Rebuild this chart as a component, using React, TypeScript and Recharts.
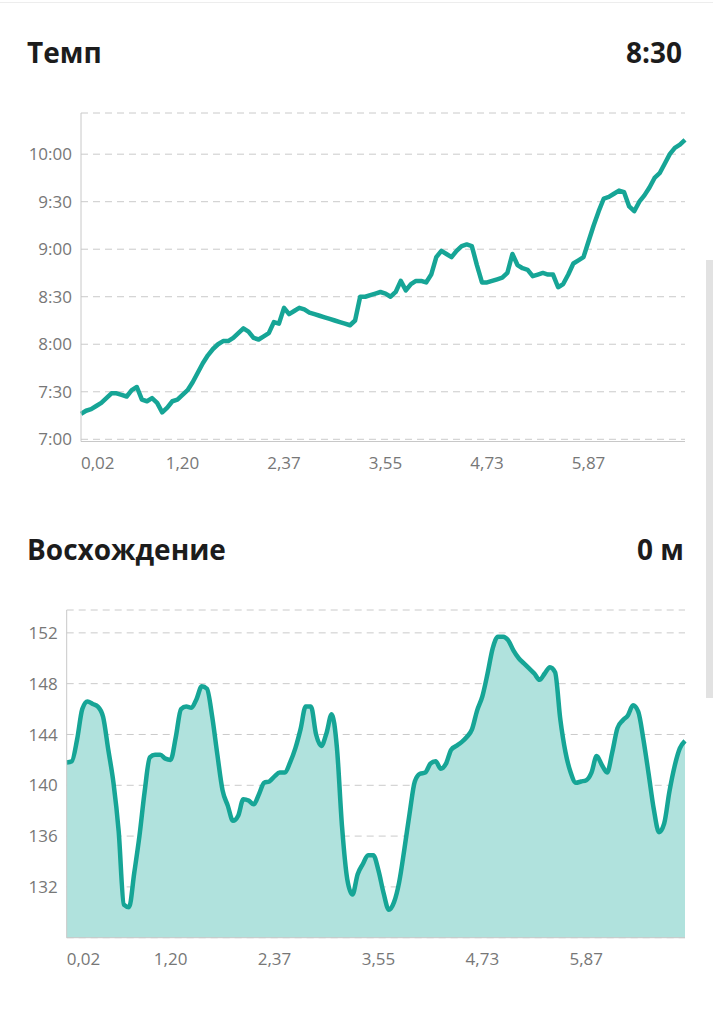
import React from "react";
import {
  LineChart,
  Line,
  AreaChart,
  Area,
  XAxis,
  YAxis,
  CartesianGrid,
} from "recharts";

// pace per km, seconds (7:00 = 420)
const pace = [
  436, 438, 439, 441, 443, 446, 449, 449, 448, 447,
  451, 453, 445, 444, 446, 443, 437, 440, 444, 445,
  448, 451, 456, 462, 468, 473, 477, 480, 482, 482,
  484, 487, 490, 488, 484, 483, 485, 487, 494, 493,
  503, 499, 501, 503, 502, 500, 499, 498, 497, 496,
  495, 494, 493, 492, 495, 510, 510, 511, 512, 513,
  512, 510, 513, 520, 514, 518, 520, 520, 519, 524,
  535, 539, 537, 535, 539, 542, 543, 542, 530, 519,
  519, 520, 521, 522, 525, 537, 530, 528, 527, 523,
  524, 525, 524, 524, 516, 518, 524, 531, 533, 535,
  545, 555, 564, 572, 573, 575, 577, 576, 567, 564,
  570, 574, 579, 585, 588, 594, 600, 604, 606, 609,
];

// elevation, metres
const elevation = [
  141.8, 141.9, 143.6, 146.0, 146.6, 146.4, 146.2, 145.4, 142.8, 140.2,
  136.4, 130.6, 130.4, 133.1, 136.0, 139.5, 142.2, 142.4, 142.4, 142.1,
  142.0, 143.8, 146.0, 146.2, 146.1, 146.8, 147.8, 147.6, 145.4, 142.4,
  139.6, 138.4, 137.2, 137.6, 138.9, 138.8, 138.5, 139.3, 140.2, 140.3,
  140.7, 141.0, 141.0, 141.8, 142.9, 144.4, 146.2, 146.2, 144.0, 143.1,
  144.1, 145.6, 143.0, 136.7, 132.6, 131.4, 133.0, 133.8, 134.5, 134.5,
  133.3, 131.5, 130.2, 130.8, 132.4, 135.0, 137.8, 140.3, 140.9, 141.0,
  141.7, 141.9, 141.3, 141.7, 142.8, 143.1, 143.4, 143.8, 144.4, 145.9,
  147.0, 148.8, 150.8, 151.7, 151.7, 151.4, 150.6, 150.0, 149.6, 149.2,
  148.8, 148.3, 148.8, 149.3, 148.9, 145.2, 142.6, 141.0, 140.2, 140.3,
  140.4, 141.0, 142.3, 141.6, 141.0, 142.6, 144.5, 145.1, 145.5, 146.3,
  145.8, 143.6, 140.9, 138.1, 136.3, 137.0, 139.5, 141.5, 142.9, 143.5,
];

const xTicks = [0, 20, 40, 60, 80, 100];
const xTickLabels = ["0,02", "1,20", "2,37", "3,55", "4,73", "5,87"];
const paceTicks = [420, 450, 480, 510, 540, 570, 600];
const elevationTicks = [132, 136, 140, 144, 148, 152];

const TEAL = "#16a596";
const FILL = "#b0e2dd";
const GRID = "#cacaca";
const AXIS = "#c8c8c8";
const TICK = "#777777";
const FONT = "'Open Sans', sans-serif";

const paceData = pace.map((v, i) => ({ i, v }));
const elevationData = elevation.map((v, i) => ({ i, v }));

const fmtPace = (s: number) => {
  const m = Math.floor(s / 60);
  const r = s % 60;
  return `${m}:${r < 10 ? "0" : ""}${r}`;
};

const DistanceTick = (props: any) => {
  const { x, y, payload } = props;
  const idx = xTicks.indexOf(payload.value);
  return (
    <text
      x={x}
      y={y}
      dy="0.71em"
      textAnchor={idx === 0 ? "start" : "middle"}
      fill={TICK}
      fontSize={17}
      fontFamily={FONT}
    >
      {xTickLabels[idx]}
    </text>
  );
};

const headerStyle: React.CSSProperties = {
  position: "absolute",
  fontFamily: FONT,
  fontWeight: 700,
  fontSize: 28,
  lineHeight: 1,
  color: "#1c1c1c",
};

export default function App() {
  return (
    <div
      style={{
        position: "absolute",
        left: 0,
        top: 0,
        width: 713,
        height: 1024,
        background: "#fff",
        overflow: "hidden",
        fontFamily: FONT,
      }}
    >
      <div style={{ position: "absolute", left: 0, top: 2, width: 713, height: 1, background: "#ededed" }} />

      <div style={{ ...headerStyle, left: 27, top: 38 }}>Темп</div>
      <div style={{ ...headerStyle, right: 31, top: 38 }}>8:30</div>

      <div style={{ position: "absolute", left: 0, top: 100 }}>
        <LineChart
          width={713}
          height={400}
          data={paceData}
          margin={{ top: 13, right: 28, left: 0, bottom: 28.5 }}
        >
          <CartesianGrid vertical={false} stroke={GRID} strokeDasharray="7 5" />
          <XAxis
            type="number"
            dataKey="i"
            domain={[0, 119]}
            ticks={xTicks}
            tick={<DistanceTick />}
            tickLine={false}
            tickSize={0}
            tickMargin={15}
            height={30}
            stroke={AXIS}
          />
          <YAxis
            type="number"
            domain={[418.6, 626]}
            ticks={paceTicks}
            tickFormatter={fmtPace}
            tickLine={false}
            tickSize={0}
            tickMargin={9}
            width={81}
            stroke={AXIS}
            tick={{ fill: TICK, fontSize: 17, fontFamily: FONT }}
          />
          <Line
            type="linear"
            dataKey="v"
            stroke={TEAL}
            strokeWidth={4.5}
            strokeLinejoin="round"
            dot={false}
            isAnimationActive={false}
          />
        </LineChart>
      </div>

      <div style={{ ...headerStyle, left: 27, top: 535 }}>Восхождение</div>
      <div style={{ ...headerStyle, right: 29, top: 535 }}>0 м</div>

      <div style={{ position: "absolute", left: 0, top: 590 }}>
        <AreaChart
          width={713}
          height={420}
          data={elevationData}
          margin={{ top: 20, right: 28, left: 0, bottom: 42.3 }}
        >
          <CartesianGrid vertical={false} stroke={GRID} strokeDasharray="7 5" />
          <XAxis
            type="number"
            dataKey="i"
            domain={[0, 119]}
            ticks={xTicks}
            tick={<DistanceTick />}
            tickLine={false}
            tickSize={0}
            tickMargin={15}
            height={30}
            stroke={AXIS}
          />
          <YAxis
            type="number"
            domain={[128, 153.8]}
            ticks={elevationTicks}
            tickLine={false}
            tickSize={0}
            tickMargin={9}
            width={66.7}
            stroke={AXIS}
            tick={{ fill: TICK, fontSize: 17, fontFamily: FONT }}
          />
          <Area
            type="monotone"
            dataKey="v"
            stroke={TEAL}
            strokeWidth={4.5}
            fill={FILL}
            fillOpacity={1}
            dot={false}
            isAnimationActive={false}
          />
        </AreaChart>
      </div>

      <div
        style={{
          position: "absolute",
          left: 706,
          top: 260,
          width: 7,
          height: 438,
          background: "#e2e2e2",
        }}
      />
    </div>
  );
}
